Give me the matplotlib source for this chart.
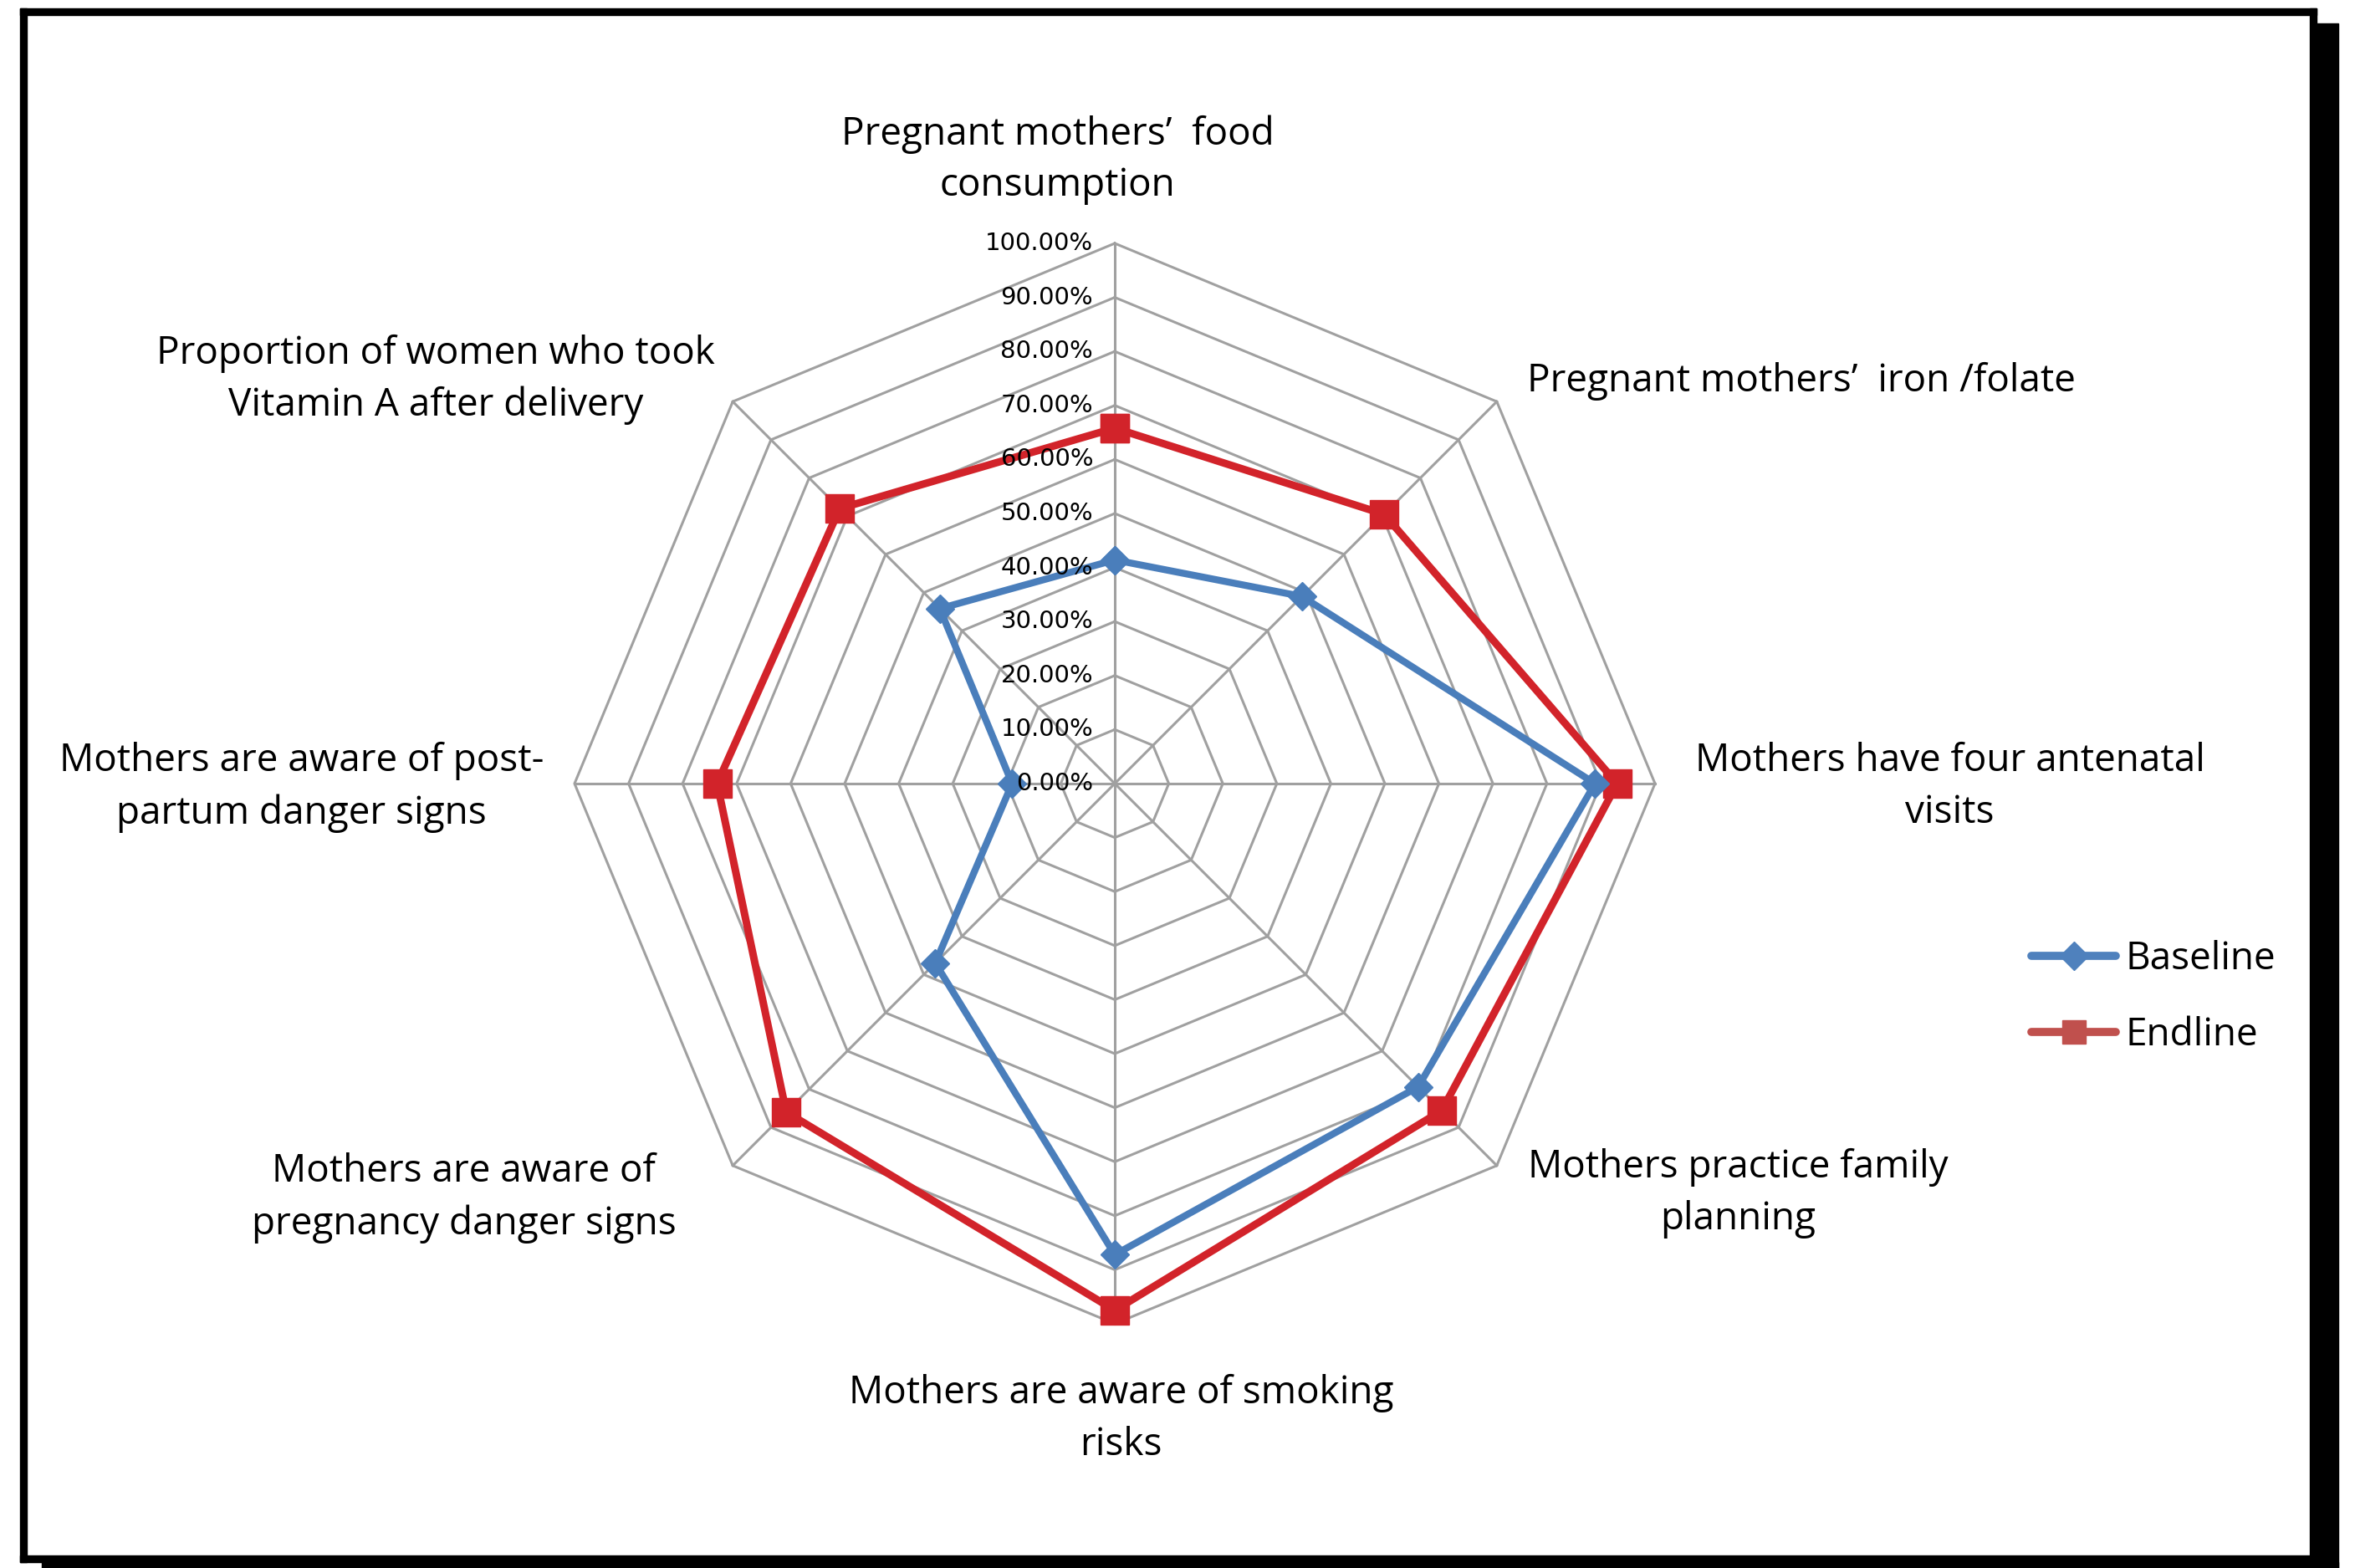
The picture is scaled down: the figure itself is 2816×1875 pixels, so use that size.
import numpy as np
import matplotlib.pyplot as plt
from matplotlib.lines import Line2D
from matplotlib.patches import Rectangle

# Data (percent)
categories = [
    "Pregnant mothers\u2019  food\nconsumption",
    "Pregnant mothers\u2019  iron /folate",
    "Mothers have four antenatal\nvisits",
    "Mothers practice family\nplanning",
    "Mothers are aware of smoking\nrisks",
    "Mothers are aware of\npregnancy danger signs",
    "Mothers are aware of post-\npartum danger signs",
    "Proportion of women who took\nVitamin A after delivery",
]
baseline = [41.4, 49.0, 88.9, 79.4, 87.2, 47.0, 19.0, 45.8]
endline = [65.8, 70.5, 93.0, 85.6, 97.5, 86.0, 73.6, 72.0]
ticks = [0, 10, 20, 30, 40, 50, 60, 70, 80, 90, 100]
tick_labels = [f"{t:.2f}%" for t in ticks]

# label anchor points (axes fraction), roughly where Excel put them
label_pos = [
    (0.449, 0.898), (0.6486, 0.757), (0.828, 0.498), (0.738, 0.239),
    (0.476, 0.095), (0.197, 0.236), (0.128, 0.498), (0.185, 0.758),
]
label_ha = ["center", "left", "center", "center", "center", "center", "center", "center"]

BLUE = "#4A7EBB"
RED = "#D2232A"
GRID = "#A0A0A0"
FONT = "Open Sans"

W, H = 2816, 1875
cx, cy, R = 1333, 937, 646  # centre and 100% radius in pixels

fig = plt.figure(figsize=(W / 100, H / 100), dpi=100)
ax = fig.add_axes([0, 0, 1, 1])
ax.set_xlim(-cx / R, (W - cx) / R)
ax.set_ylim(-(H - cy) / R, cy / R)
ax.axis("off")

n = len(categories)
ang = np.pi / 2 - 2 * np.pi * np.arange(n) / n


def xy(vals):
    v = np.asarray(vals) / 100.0
    x = v * np.cos(ang)
    y = v * np.sin(ang)
    return np.append(x, x[0]), np.append(y, y[0])


# octagon grid and spokes
for t in ticks[1:]:
    gx, gy = xy([t] * n)
    ax.plot(gx, gy, color=GRID, lw=2.2, zorder=1)
for a in ang:
    ax.plot([0, np.cos(a)], [0, np.sin(a)], color=GRID, lw=2.2, zorder=1)

for t, lab in zip(ticks, tick_labels):
    ax.text(-0.04, t / 100.0, lab, ha="right", va="center", fontsize=21,
            family="DejaVu Sans", zorder=4)

bx, by = xy(baseline)
ex, ey = xy(endline)
ax.plot(ex, ey, color=RED, lw=6.5, marker="s", ms=25, mfc=RED, mec=RED,
        zorder=3, solid_joinstyle="round")
ax.plot(bx, by, color=BLUE, lw=6, marker="D", ms=17, mfc=BLUE, mec=BLUE,
        zorder=3, solid_joinstyle="round")

for lab, (px, py), ha in zip(categories, label_pos, label_ha):
    ax.text(px, py, lab, transform=ax.transAxes, ha=ha, va="center",
            fontsize=33, family=FONT, linespacing=1.45, multialignment="center")

handles = [
    Line2D([], [], color="#4F81BD", lw=7, marker="D", ms=17, solid_capstyle="round"),
    Line2D([], [], color="#C0504D", lw=7, marker="s", ms=20, solid_capstyle="round"),
]
ax.legend(handles, ["Baseline", "Endline"], loc="center left",
          bbox_to_anchor=(0.848, 0.364), frameon=False, handlelength=2.2,
          handletextpad=0.25, labelspacing=1.0, prop={"family": FONT, "size": 33})

# black frame with drop shadow
def fr(x0, y0, x1, y1):
    return Rectangle((x0 / W, 1 - y1 / H), (x1 - x0) / W, (y1 - y0) / H,
                     transform=fig.transFigure, color="black", zorder=10)

fig.add_artist(fr(24, 10, 2770, 18))
fig.add_artist(fr(24, 10, 32, 1868))
fig.add_artist(fr(24, 1860, 2770, 1868))
fig.add_artist(fr(2762, 10, 2770, 1868))
fig.add_artist(fr(2770, 28, 2796, 1875))
fig.add_artist(fr(50, 1868, 2796, 1875))

fig.savefig("out.png", dpi=100, facecolor="white")
